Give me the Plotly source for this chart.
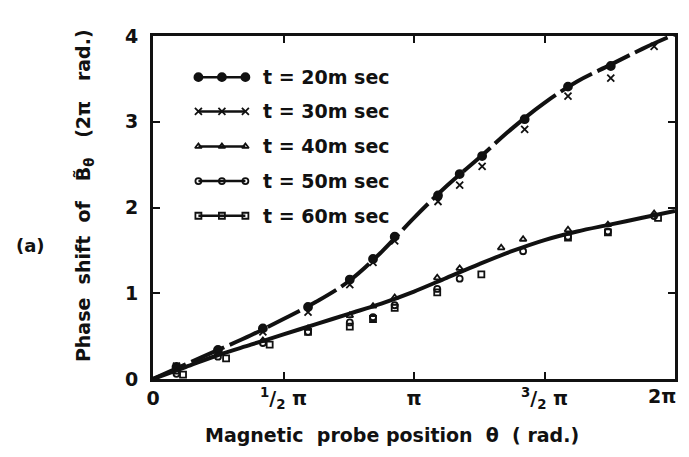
import plotly.graph_objects as go

# probe positions in units of pi
x20 = [0.09, 0.249, 0.421, 0.594, 0.754, 0.843, 0.926, 1.092, 1.175, 1.261, 1.424, 1.590, 1.754]
y20 = [0.14, 0.34, 0.59, 0.84, 1.16, 1.40, 1.66, 2.14, 2.39, 2.60, 3.03, 3.41, 3.65]

x30 = [0.09, 0.249, 0.421, 0.594, 0.754, 0.843, 0.926, 1.092, 1.175, 1.261, 1.424, 1.590, 1.754, 1.920]
y30 = [0.15, 0.32, 0.55, 0.78, 1.10, 1.36, 1.61, 2.07, 2.26, 2.48, 2.91, 3.30, 3.51, 3.88]

x40 = [0.09, 0.249, 0.421, 0.594, 0.754, 0.843, 0.926, 1.089, 1.175, 1.334, 1.418, 1.590, 1.743, 1.920]
y40 = [0.08, 0.30, 0.45, 0.59, 0.74, 0.85, 0.95, 1.18, 1.29, 1.53, 1.63, 1.74, 1.80, 1.93]

x50 = [0.09, 0.249, 0.421, 0.594, 0.754, 0.843, 0.926, 1.089, 1.175, 1.418, 1.590, 1.743, 1.920]
y50 = [0.06, 0.26, 0.42, 0.55, 0.66, 0.72, 0.86, 1.05, 1.17, 1.49, 1.66, 1.72, 1.90]

x60 = [0.115, 0.28, 0.447, 0.594, 0.754, 0.843, 0.926, 1.089, 1.258, 1.590, 1.743, 1.935]
y60 = [0.05, 0.24, 0.40, 0.55, 0.61, 0.70, 0.83, 1.01, 1.22, 1.65, 1.71, 1.88]

# smooth guide curves
fit_x = [0, 0.125, 0.25, 0.375, 0.5, 0.625, 0.75, 0.875, 1.0, 1.125, 1.25, 1.375, 1.5, 1.625, 1.75, 1.875, 2.0]
fit_upper = [0, 0.17, 0.34, 0.51, 0.70, 0.90, 1.14, 1.48, 1.88, 2.25, 2.58, 2.92, 3.22, 3.47, 3.66, 3.85, 4.02]
fit_lower = [0, 0.14, 0.28, 0.40, 0.52, 0.64, 0.76, 0.88, 1.02, 1.18, 1.34, 1.49, 1.62, 1.72, 1.80, 1.88, 1.96]

x_tickvals = [0, 0.5, 1, 1.5, 2]
x_ticktext = ["0", "<sup>1</sup>/<sub>2</sub> π", "π", "<sup>3</sup>/<sub>2</sub> π", ""]
x_last_label = "2π"
y_tickvals = [0, 1, 2, 3, 4]
y_ticktext = ["0", "1", "2", "3", "4"]

labels = ["t = 20m sec", "t = 30m sec", "t = 40m sec", "t = 50m sec", "t = 60m sec"]
symbols = ["circle", "x-thin", "triangle-up-open", "circle-open", "square-open"]
sizes = [8, 7, 6, 6, 6]

FONT = "DejaVu Sans"
BLACK = "#111111"

fig = go.Figure()

fig.add_trace(go.Scatter(x=fit_x, y=fit_upper, mode="lines",
                         line=dict(color=BLACK, width=4, dash="36px,6px", shape="spline"),
                         showlegend=False, hoverinfo="skip"))
fig.add_trace(go.Scatter(x=fit_x, y=fit_lower, mode="lines",
                         line=dict(color=BLACK, width=4, shape="spline"),
                         showlegend=False, hoverinfo="skip"))

series = [(x20, y20), (x30, y30), (x40, y40), (x50, y50), (x60, y60)]
for (xs, ys), sym, sz in zip(series, symbols, sizes):
    fig.add_trace(go.Scatter(x=xs, y=ys, mode="markers",
                             marker=dict(symbol=sym, size=sz, color=BLACK,
                                         line=dict(color=BLACK, width=1.8)),
                             showlegend=False))

# legend drawn on an overlay axis (paper-fraction coordinates)
leg_x = [0.087, 0.132, 0.177]
leg_rows = [0.88, 0.78, 0.678, 0.577, 0.476]
for lab, sym, sz, ry in zip(labels, symbols, sizes, leg_rows):
    fig.add_trace(go.Scatter(x=leg_x, y=[ry] * 3, mode="lines+markers",
                             xaxis="x2", yaxis="y2",
                             line=dict(color=BLACK, width=2.5),
                             marker=dict(symbol=sym, size=sz, color=BLACK,
                                         line=dict(color=BLACK, width=1.8)),
                             showlegend=False, hoverinfo="skip"))
    fig.add_annotation(x=0.207, y=ry, xref="x2", yref="y2", text=lab,
                       showarrow=False, xanchor="left", yanchor="middle",
                       font=dict(family=FONT, size=19, color=BLACK, weight="bold"))

axis_common = dict(showgrid=False, zeroline=False, showline=True, linecolor=BLACK,
                   linewidth=3, mirror="ticks", ticks="inside", ticklen=7,
                   tickwidth=2, tickcolor=BLACK,
                   tickfont=dict(family=FONT, size=19, color=BLACK, weight="bold"))

fig.update_layout(
    width=689, height=457,
    margin=dict(l=145, r=22, t=28, b=86),
    paper_bgcolor="white", plot_bgcolor="white",
    showlegend=False,
    xaxis=dict(range=[0, 2], tickmode="array", tickvals=x_tickvals, ticktext=x_ticktext,
               **axis_common),
    yaxis=dict(range=[0, 4], tickmode="array", tickvals=y_tickvals, ticktext=y_ticktext,
               ticklabelstandoff=8, **axis_common),
    xaxis2=dict(range=[0, 1], overlaying="x", visible=False, anchor="y2"),
    yaxis2=dict(range=[0, 1], overlaying="y", visible=False, anchor="x2"),
)

fig.add_annotation(x=1, y=0, xref="paper", yref="paper", text=x_last_label,
                   showarrow=False, xanchor="right", yanchor="top",
                   xshift=3, yshift=-4,
                   font=dict(family=FONT, size=19, color=BLACK, weight="bold"))
fig.add_annotation(x=-0.131, y=0.535, xref="paper", yref="paper",
                   text="Phase  shift  of   B̃<sub>θ</sub>   (2π   rad.)",
                   textangle=-90, showarrow=False, xanchor="center", yanchor="middle",
                   font=dict(family=FONT, size=19, color=BLACK, weight="bold"))
fig.add_annotation(x=-0.235, y=0.39, xref="paper", yref="paper", text="(a)",
                   showarrow=False, xanchor="center", yanchor="middle",
                   font=dict(family=FONT, size=18, color=BLACK, weight="bold"))
fig.add_annotation(x=0.458, y=-0.163, xref="paper", yref="paper",
                   text="Magnetic  probe position  θ  ( rad.)",
                   showarrow=False, xanchor="center", yanchor="middle",
                   font=dict(family=FONT, size=19, color=BLACK, weight="bold"))

fig.write_html("out.html")
